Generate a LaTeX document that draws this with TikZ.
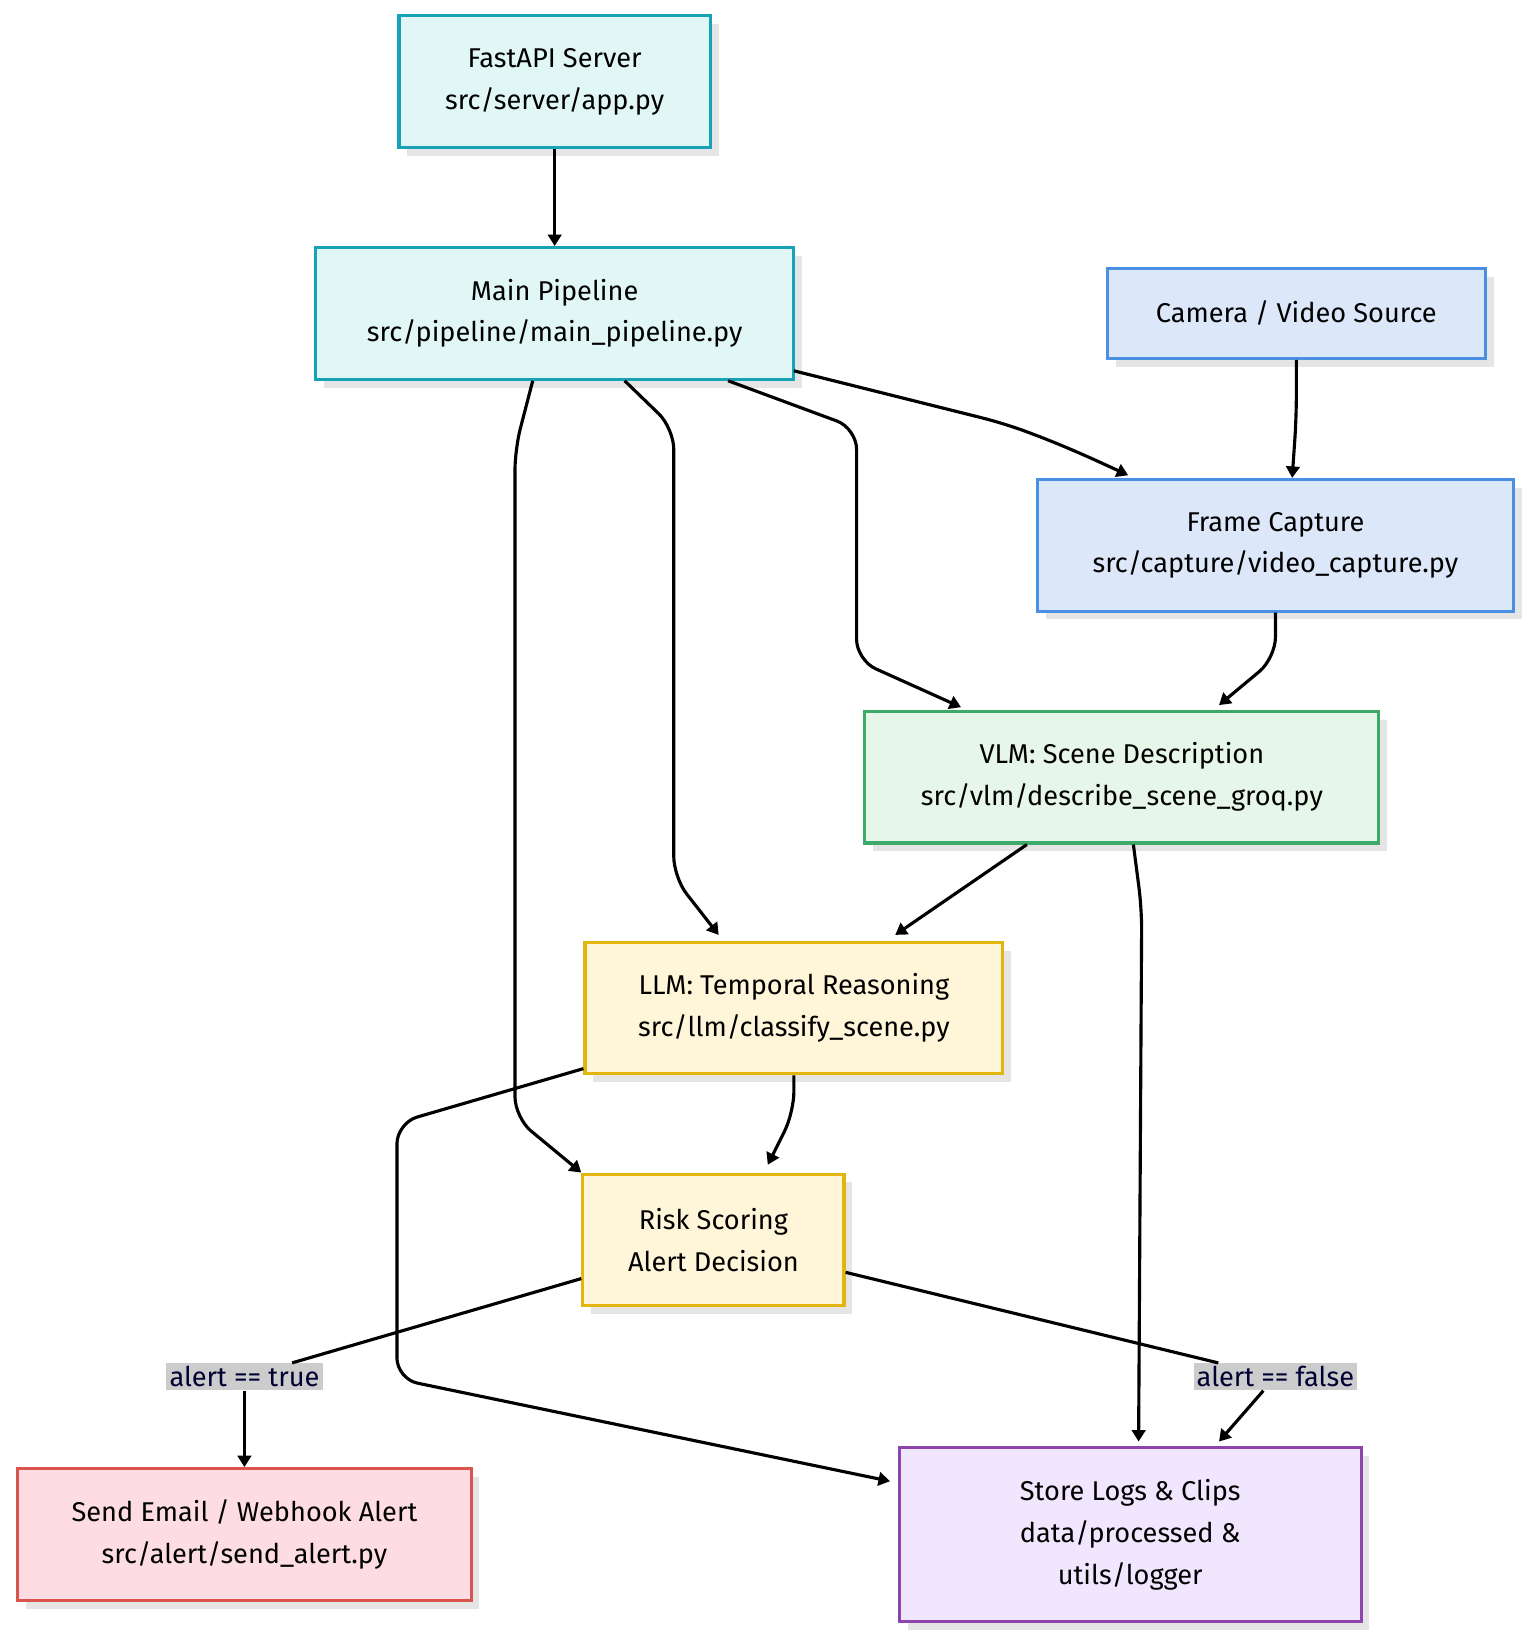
\documentclass[tikz,border=0pt]{standalone}
\usepackage{fontspec}
\setmainfont{Fira Sans}
\usepackage{xcolor}
\definecolor{SrvLine}{HTML}{17A2B8}\definecolor{SrvFill}{HTML}{E0F7F5}
\definecolor{CapLine}{HTML}{4A90E2}\definecolor{CapFill}{HTML}{DCE8FA}
\definecolor{VlmLine}{HTML}{3DAA6A}\definecolor{VlmFill}{HTML}{E6F6E8}
\definecolor{LlmLine}{HTML}{E3B60F}\definecolor{LlmFill}{HTML}{FFF6DA}
\definecolor{AlrLine}{HTML}{D9534F}\definecolor{AlrFill}{HTML}{FDDDE3}
\definecolor{StoLine}{HTML}{8E44AD}\definecolor{StoFill}{HTML}{F0E6FD}
\usetikzlibrary{arrows.meta,positioning,shadows}

\begin{document}
\begin{tikzpicture}[
  x=0.5pt, y=-0.5pt,
  box/.style={draw=#1Line, fill=#1Fill, line width=1.5pt, align=center, font=\fontsize{13}{20}\selectfont,
    minimum height=63pt, inner sep=0pt, drop shadow={shadow xshift=4pt, shadow yshift=-4pt, fill=black!10, opacity=1}},
  cond/.style={fill=black!20, text=black!80!blue, font=\fontsize{13}{16}\selectfont, inner sep=1.5pt},
  arrow/.style={-{Triangle[length=5.5pt,width=6.5pt]}, line width=1.5pt, rounded corners=10pt},
]
\useasboundingbox (0,0) rectangle (1470,1570);
\node[box=Srv, minimum width=149pt] (server) at (531,78) {FastAPI Server\\src/server/app.py};
\node[box=Srv, minimum width=229pt] (pipeline) at (531,300) {Main Pipeline\\src/pipeline/main\_pipeline.py};
\node[box=Cap, minimum width=181pt, minimum height=43pt] (camera) at (1241,300) {Camera / Video Source};
\node[box=Cap, minimum width=228pt] (capture) at (1221,522) {Frame Capture\\src/capture/video\_capture.py};
\node[box=Vlm, minimum width=246pt] (vlm) at (1074,744) {VLM: Scene Description\\src/vlm/describe\_scene\_groq.py};
\node[box=Llm, minimum width=200pt] (llm) at (760,965) {LLM: Temporal Reasoning\\src/llm/classify\_scene.py};
\node[box=Llm, minimum width=125pt] (risk) at (683,1187) {Risk Scoring\\Alert Decision};
\node[box=Alr, minimum width=217pt] (alert) at (234,1469) {Send Email / Webhook Alert\\src/alert/send\_alert.py};
\node[box=Sto, minimum width=221pt, minimum height=83pt] (store) at (1082,1469) {Store Logs \& Clips\\data/processed \&\\utils/logger};
\node[cond] (yes) at (234,1318) {alert == true};
\node[cond] (no) at (1221,1318) {alert == false};

\draw[arrow] (server) -- (pipeline);
\draw[arrow] (pipeline.south -| 510,0) -- (493,430) -- (493,1070) -- (risk.north west);
\draw[arrow] (pipeline.south -| 598,0) -- (645,410) -- (645,840) -- (688,895);
\draw[arrow] (pipeline.south -| 697,0) -- (820,410) -- (820,632) -- (920,677);
\draw[arrow] (760,355) -- (960,405) to[out=-20,in=155] (1080,455);
\draw[arrow] (camera) -- (1241,400) -- (capture.north -| 1237,0);
\draw[arrow] (capture) -- (1221,630) -- (1167,675);
\draw[arrow] (vlm.south -| 983,0) -- (857,895);
\draw[arrow] (vlm.south -| 1085,0) -- (1093,870) -- (1090,1380);
\draw[arrow] (llm) -- (760,1065) -- (735,1115);
\draw[arrow] (llm.west |- 0,1023) -- (380,1075) -- (380,1320) -- (852,1418);
\draw[line width=1.5pt] (risk.west |- 0,1224) -- (yes);
\draw[arrow] (yes) -- (alert);
\draw[line width=1.5pt] (risk.east |- 0,1218) -- (no);
\draw[arrow] (no) -- (1167,1380);
\end{tikzpicture}
\end{document}
